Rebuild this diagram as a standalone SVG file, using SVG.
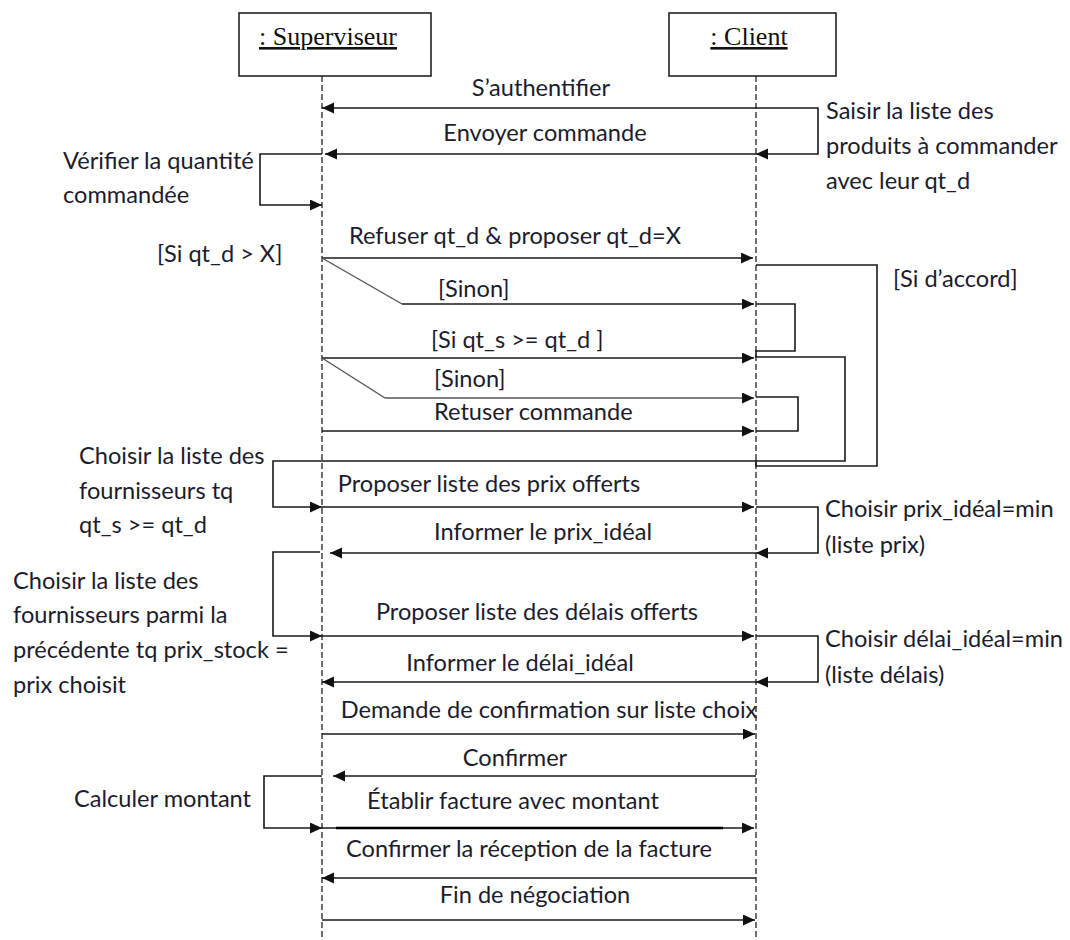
<svg xmlns="http://www.w3.org/2000/svg" width="1070" height="940" viewBox="0 0 1070 940">
  <defs>
    <marker id="arrow" markerUnits="userSpaceOnUse" markerWidth="13" markerHeight="12" refX="12" refY="5.5" orient="auto">
      <path d="M0,0 L12,5.5 L0,11 z" fill="#111"/>
    </marker>
    <style>
      .box { fill: #fff; stroke: #222; stroke-width: 1.6; }
      .life { stroke: #222; stroke-width: 1.3; stroke-dasharray: 6 3; fill: none; }
      .msg { stroke: #1a1a1a; stroke-width: 1.6; fill: none; }
      .grey { stroke: #555; stroke-width: 1.4; fill: none; }
      .hdr { font-family: "Liberation Serif", "Times New Roman", serif; font-size: 26px; fill: #111; text-decoration: underline; }
      .lbl { font-family: Lato, "Liberation Sans", sans-serif; font-size: 23.6px; fill: #1c1c2c; }
      .mid { text-anchor: middle; }
    </style>
  </defs>
  <rect width="1070" height="940" fill="#fff"/>

  <!-- lifeline heads -->
  <g id="superviseur">
    <rect class="box" x="239" y="13" width="192" height="63"/>
    <text class="hdr mid" x="328" y="45">: Superviseur</text>
    <line class="life" x1="322" y1="76" x2="322" y2="940"/>
  </g>
  <g id="client">
    <rect class="box" x="669" y="13" width="167" height="63"/>
    <text class="hdr mid" x="749" y="45">: Client</text>
    <line class="life" x1="756" y1="76" x2="756" y2="940"/>
  </g>

  <!-- messages and self-calls -->
  <g id="connectors">
    <line class="msg" x1="756" y1="108" x2="322" y2="108" marker-end="url(#arrow)"/>
    <polyline class="msg" points="756,108 818,108 818,154 756,154" marker-end="url(#arrow)"/>
    <line class="msg" x1="756" y1="154" x2="325" y2="154" marker-end="url(#arrow)"/>
    <polyline class="msg" points="322,154 260,154 260,205 322,205" marker-end="url(#arrow)"/>

    <line class="msg" x1="322" y1="258" x2="753" y2="258" marker-end="url(#arrow)"/>
    <line class="grey" x1="322" y1="258" x2="402" y2="304"/>
    <line class="msg" x1="402" y1="304" x2="754" y2="304" marker-end="url(#arrow)"/>
    <line class="msg" x1="322" y1="358" x2="754" y2="358" marker-end="url(#arrow)"/>
    <line class="grey" x1="322" y1="358" x2="385" y2="398"/>
    <line class="grey" x1="385" y1="398" x2="754" y2="398" marker-end="url(#arrow)"/>
    <line class="msg" x1="322" y1="431" x2="754" y2="431" marker-end="url(#arrow)"/>

    <polyline class="msg" points="756,265 877,265 877,466 756,466 756,460"/>
    <polyline class="msg" points="756,304 795,304 795,351 756,351 756,357 845,357 845,461 273,461 273,507 322,507" marker-end="url(#arrow)"/>
    <polyline class="msg" points="756,397 798,397 798,431 756,431"/>

    <line class="msg" x1="322" y1="507" x2="754" y2="507" marker-end="url(#arrow)"/>
    <polyline class="msg" points="756,507 818,507 818,553 756,553" marker-end="url(#arrow)"/>
    <line class="msg" x1="756" y1="553" x2="330" y2="553" marker-end="url(#arrow)"/>
    <polyline class="msg" points="320,552 273,552 273,636 322,636" marker-end="url(#arrow)"/>
    <line class="msg" x1="322" y1="636" x2="754" y2="636" marker-end="url(#arrow)"/>
    <polyline class="msg" points="756,636 818,636 818,682 756,682" marker-end="url(#arrow)"/>
    <line class="msg" x1="756" y1="682" x2="322" y2="682" marker-end="url(#arrow)"/>

    <line class="msg" x1="322" y1="734" x2="755" y2="734" marker-end="url(#arrow)"/>
    <line class="msg" x1="756" y1="776" x2="333" y2="776" marker-end="url(#arrow)"/>
    <polyline class="msg" points="322,776 264,776 264,828 322,828" marker-end="url(#arrow)"/>
    <line class="msg" x1="322" y1="828" x2="754" y2="828" marker-end="url(#arrow)"/>
    <line x1="336" y1="828" x2="723" y2="828" stroke="#000" stroke-width="2.6"/>
    <line class="msg" x1="756" y1="878" x2="322" y2="878" marker-end="url(#arrow)"/>
    <line class="msg" x1="322" y1="920" x2="755" y2="920" marker-end="url(#arrow)"/>
  </g>

  <!-- message labels -->
  <g id="labels" class="lbl">
    <text class="mid" x="541" y="96">S’authentifier</text>
    <text class="mid" x="545" y="141">Envoyer commande</text>
    <text class="mid" x="515" y="244">Refuser qt_d &amp; proposer qt_d=X</text>
    <text x="438" y="297">[Sinon]</text>
    <text x="431" y="348">[Si qt_s &gt;= qt_d ]</text>
    <text x="434" y="387">[Sinon]</text>
    <text x="434" y="420">Retuser commande</text>
    <text class="mid" x="489" y="492">Proposer liste des prix offerts</text>
    <text class="mid" x="543" y="540">Informer le prix_idéal</text>
    <text class="mid" x="537" y="620">Proposer liste des délais offerts</text>
    <text class="mid" x="520" y="671">Informer le délai_idéal</text>
    <text class="mid" x="549" y="718">Demande de confirmation sur liste choix</text>
    <text class="mid" x="515" y="766">Confirmer</text>
    <text class="mid" x="513" y="809">Établir facture avec montant</text>
    <text class="mid" x="529" y="857">Confirmer la réception de la facture</text>
    <text class="mid" x="535" y="903">Fin de négociation</text>
  </g>

  <!-- notes beside the self-calls and guards -->
  <g id="notes" class="lbl">
    <text x="826" y="119">Saisir la liste des</text>
    <text x="826" y="154">produits à commander</text>
    <text x="826" y="189">avec leur qt_d</text>
    <text x="63" y="169">Vérifier la quantité</text>
    <text x="63" y="203">commandée</text>
    <text x="157" y="262">[Si qt_d &gt; X]</text>
    <text x="893" y="287">[Si d’accord]</text>
    <text x="79" y="464">Choisir la liste des</text>
    <text x="79" y="499">fournisseurs tq</text>
    <text x="79" y="533">qt_s &gt;= qt_d</text>
    <text x="825" y="517">Choisir prix_idéal=min</text>
    <text x="825" y="553">(liste prix)</text>
    <text x="13" y="589">Choisir la liste des</text>
    <text x="13" y="623">fournisseurs parmi la</text>
    <text x="13" y="658">précédente tq prix_stock =</text>
    <text x="13" y="693">prix choisit</text>
    <text x="825" y="647">Choisir délai_idéal=min</text>
    <text x="825" y="683">(liste délais)</text>
    <text x="74" y="807">Calculer montant</text>
  </g>
</svg>
